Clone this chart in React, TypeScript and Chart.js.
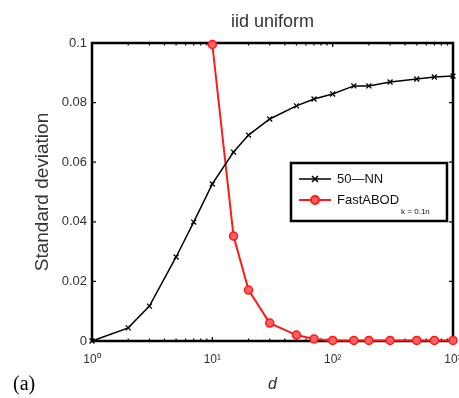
import React, { useEffect, useRef } from 'react';
import { Chart, registerables } from 'chart.js';

Chart.register(...registerables);

const dims = [1, 2, 3, 5, 7, 10, 15, 20, 30, 50, 70, 100, 150, 200, 300, 500, 700, 1000];
const nnStd = [0, 0.0044, 0.0117, 0.0282, 0.0399, 0.0527, 0.0634, 0.0691, 0.0745, 0.0789, 0.0812, 0.0829, 0.0856, 0.0856, 0.0869, 0.0879, 0.0886, 0.0889];
const abodStd = [null, null, null, null, null, 0.0995, 0.0352, 0.0171, 0.006, 0.002, 0.0007, 0.0002, 0.0002, 0.0002, 0.0002, 0.0002, 0.0002, 0.0002];
const yTicks = [0, 0.02, 0.04, 0.06, 0.08, 0.1];
const yTickLabels = ['0', '0.02', '0.04', '0.06', '0.08', '0.1'];
const xTicks = [1, 10, 100, 1000];
const xTickLabels = ['10\u2070', '10\u00b9', '10\u00b2', '10\u00b3'];
const titleText = 'iid uniform';
const xTitle = 'd';
const yTitle = 'Standard deviation';
const seriesNames = ['50\u2014NN', 'FastABOD'];
const abodSub = 'k = 0.1n';
const panelLabel = '(a)';

const FONT = "'Liberation Sans', Arial, sans-serif";

function drawCross(ctx: CanvasRenderingContext2D, x: number, y: number, r: number) {
  ctx.beginPath();
  ctx.moveTo(x - r, y - r);
  ctx.lineTo(x + r, y + r);
  ctx.moveTo(x - r, y + r);
  ctx.lineTo(x + r, y - r);
  ctx.stroke();
}

const framePlugin = {
  id: 'frame',
  beforeDatasetsDraw(chart: any) {
    const { ctx, chartArea } = chart;
    const { left, right, top, bottom } = chartArea;
    const xs = chart.scales.x;
    const ys = chart.scales.y;
    ctx.save();
    ctx.strokeStyle = '#000';
    ctx.lineWidth = 1.2;
    yTicks.forEach((v) => {
      const py = ys.getPixelForValue(v);
      ctx.beginPath();
      ctx.moveTo(left, py);
      ctx.lineTo(left + 4, py);
      ctx.moveTo(right, py);
      ctx.lineTo(right - 4, py);
      ctx.stroke();
    });
    for (let e = 0; e < 3; e++) {
      for (let m = 1; m <= 9; m++) {
        const v = m * Math.pow(10, e);
        const px = xs.getPixelForValue(v);
        const len = m === 1 ? 4 : 2.5;
        ctx.beginPath();
        ctx.moveTo(px, bottom);
        ctx.lineTo(px, bottom - len);
        ctx.moveTo(px, top);
        ctx.lineTo(px, top + len);
        ctx.stroke();
      }
    }
    ctx.lineWidth = 2.5;
    ctx.strokeRect(left, top, right - left, bottom - top);
    ctx.restore();
  },
  afterDraw(chart: any) {
    const { ctx, chartArea } = chart;
    ctx.save();
    const lw = 156;
    const lh = 58;
    const lx = chartArea.right - lw - 6;
    const ly = chartArea.top + 120;
    ctx.fillStyle = '#fff';
    ctx.fillRect(lx, ly, lw, lh);
    ctx.strokeStyle = '#000';
    ctx.lineWidth = 2.5;
    ctx.strokeRect(lx, ly, lw, lh);

    const ds0 = chart.data.datasets[0];
    const ds1 = chart.data.datasets[1];
    let ry = ly + 16;
    ctx.strokeStyle = ds0.borderColor;
    ctx.lineWidth = ds0.borderWidth;
    ctx.beginPath();
    ctx.moveTo(lx + 8, ry);
    ctx.lineTo(lx + 40, ry);
    ctx.stroke();
    drawCross(ctx, lx + 24, ry, 3);
    ctx.fillStyle = '#111';
    ctx.font = `13px ${FONT}`;
    ctx.textBaseline = 'middle';
    ctx.textAlign = 'left';
    ctx.fillText(seriesNames[0], lx + 46, ry);
    ry = ly + 37;
    ctx.strokeStyle = ds1.borderColor;
    ctx.lineWidth = ds1.borderWidth;
    ctx.beginPath();
    ctx.moveTo(lx + 8, ry);
    ctx.lineTo(lx + 40, ry);
    ctx.stroke();
    ctx.fillStyle = ds1.pointBackgroundColor;
    ctx.beginPath();
    ctx.arc(lx + 24, ry, 4, 0, Math.PI * 2);
    ctx.fill();
    ctx.stroke();
    ctx.fillStyle = '#111';
    ctx.font = `13px ${FONT}`;
    ctx.fillText(seriesNames[1], lx + 46, ry);
    const w = ctx.measureText(seriesNames[1]).width;
    ctx.font = `8px ${FONT}`;
    ctx.fillText(abodSub, lx + 46 + w + 2, ry + 12);

    ctx.fillStyle = '#000';
    ctx.font = `20px 'Liberation Serif', 'Times New Roman', serif`;
    ctx.textAlign = 'left';
    ctx.textBaseline = 'middle';
    ctx.fillText(panelLabel, 13, 385);
    ctx.restore();
  },
};

export default function App() {
  const ref = useRef<HTMLCanvasElement | null>(null);
  useEffect(() => {
    if (!ref.current) return;
    const chart = new Chart(ref.current, {
      type: 'line',
      data: {
        labels: dims,
        datasets: [
          {
            label: seriesNames[0],
            data: dims.map((d, i) => ({ x: d, y: nnStd[i] })),
            borderColor: '#000',
            borderWidth: 1.5,
            pointStyle: 'crossRot',
            pointRadius: 3.5,
            pointBorderWidth: 1.3,
            pointBorderColor: '#000',
            pointBackgroundColor: '#000',
            tension: 0,
            clip: false,
          },
          {
            label: seriesNames[1],
            data: dims.map((d, i) => ({ x: d, y: abodStd[i] })),
            borderColor: '#ff1a1a',
            borderWidth: 2,
            pointStyle: 'circle',
            pointRadius: 4,
            pointBorderWidth: 1.5,
            pointBorderColor: '#ff1a1a',
            pointBackgroundColor: '#ff6060',
            tension: 0,
            spanGaps: false,
            clip: false,
          },
        ],
      },
      options: {
        animation: false,
        responsive: true,
        maintainAspectRatio: false,
        layout: { padding: { top: 2, right: 6, left: 0, bottom: 0 } },
        plugins: {
          legend: { display: false },
          tooltip: { enabled: false },
          title: {
            display: true,
            text: titleText,
            fullSize: false,
            color: '#333',
            font: { size: 18, family: FONT, weight: 'normal', lineHeight: 1.2 },
            padding: { top: 9, bottom: 10.4 },
          },
        },
        scales: {
          x: {
            type: 'logarithmic',
            min: 1,
            max: 1000,
            grid: { display: false, drawTicks: false, tickLength: 0 },
            border: { display: false },
            afterBuildTicks: (scale: any) => {
              scale.ticks = xTicks.map((v) => ({ value: v }));
            },
            afterFit: (scale: any) => {
              scale.height = 57;
              scale.paddingLeft = 0;
              scale.paddingRight = 0;
            },
            ticks: {
              autoSkip: false,
              maxRotation: 0,
              padding: 11,
              color: '#333',
              font: { size: 12, family: FONT },
              callback: (_v: any, i: number) => xTickLabels[i],
            },
            title: {
              display: true,
              text: xTitle,
              color: '#333',
              font: { size: 16, family: FONT, style: 'italic', lineHeight: 1.2 },
              padding: { top: 0, bottom: 3.5 },
            },
          },
          y: {
            min: 0,
            max: 0.1,
            grid: { display: false, drawTicks: false, tickLength: 0 },
            border: { display: false },
            afterBuildTicks: (scale: any) => {
              scale.ticks = yTicks.map((v) => ({ value: v }));
            },
            afterFit: (scale: any) => {
              scale.width = 92;
              scale.paddingTop = 0;
              scale.paddingBottom = 0;
            },
            ticks: {
              padding: 5,
              color: '#333',
              font: { size: 13, family: FONT },
              callback: (_v: any, i: number) => yTickLabels[i],
            },
            title: {
              display: true,
              text: yTitle,
              color: '#333',
              font: { size: 19, family: FONT, lineHeight: 1.2 },
              padding: { top: 31, bottom: 0 },
            },
          },
        },
      },
      plugins: [framePlugin],
    } as any);
    return () => chart.destroy();
  }, []);

  return (
    <div style={{ position: 'fixed', left: 0, top: 0, width: 459, height: 398, background: '#fff' }}>
      <canvas ref={ref} />
    </div>
  );
}
